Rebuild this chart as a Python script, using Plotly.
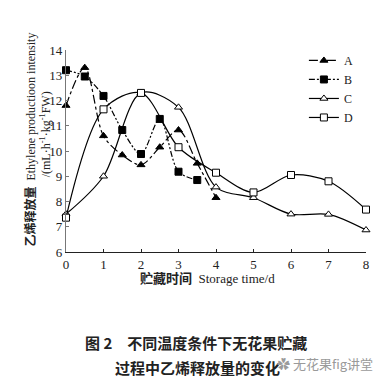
import plotly.graph_objects as go

days_AB = [0, 0.5, 1, 1.5, 2, 2.5, 3, 3.5, 4]
A_vals = [11.8, 13.3, 10.6, 9.84, 9.45, 10.15, 10.83, 9.51, 8.15]
days_B = [0, 0.5, 1, 1.5, 2, 2.5, 3, 3.5]
B_vals = [13.2, 12.95, 12.18, 10.83, 9.88, 11.27, 9.18, 8.85]
days_CD = [0, 1, 2, 3, 4, 5, 6, 7, 8]
C_vals = [7.5, 9.0, 12.3, 11.73, 8.57, 8.15, 7.5, 7.49, 6.87]
D_vals = [7.36, 11.65, 12.3, 10.15, 9.14, 8.36, 9.05, 8.8, 7.68]

x_ticks = [0, 1, 2, 3, 4, 5, 6, 7, 8]
y_ticks = [6, 7, 8, 9, 10, 11, 12, 13, 14]

SERIF = "Liberation Serif, Noto Sans CJK SC"
CJK = "Noto Sans CJK SC"

fig = go.Figure()

def add(name, x, y, dash, symbol, fill):
    fig.add_trace(go.Scatter(
        x=x, y=y, name=name, mode="lines+markers",
        line=dict(color="black", width=1.2, dash=dash, shape="spline", smoothing=0.9),
        marker=dict(symbol=symbol, size=7, color=fill, line=dict(color="black", width=1)),
        cliponaxis=False,
    ))

add("A", days_AB, A_vals, "dashdot", "triangle-up", "black")
add("B", days_B, B_vals, "6px,2px,2px,2px,2px,2px", "square", "black")
add("C", days_CD, C_vals, "solid", "triangle-up", "white")
add("D", days_CD, D_vals, "solid", "square", "white")

# The page body has an 8px default margin, so the figure is 8px smaller
fig.update_layout(
    width=380, height=374,
    margin=dict(l=58, r=22, t=42, b=130),
    paper_bgcolor="white", plot_bgcolor="white",
    font=dict(family=SERIF, size=13, color="#222"),
    showlegend=True,
    legend=dict(x=0.793, y=1.02, xanchor="left", yanchor="top",
                bgcolor="rgba(0,0,0,0)", font=dict(size=12, family=SERIF),
                itemwidth=30, tracegroupgap=0),
    xaxis=dict(range=[0, 8], tickvals=x_ticks, ticktext=[str(v) for v in x_ticks],
               showline=True, linecolor="#222", linewidth=1.2, ticks="inside",
               ticklen=3, tickcolor="#222", showgrid=False, zeroline=False,
               tickfont=dict(size=13, family=SERIF)),
    yaxis=dict(range=[6, 14], tickvals=y_ticks, ticktext=[str(v) for v in y_ticks],
               showline=True, linecolor="#777", linewidth=1.2, ticks="inside",
               ticklen=3, tickcolor="#777", showgrid=False, zeroline=False,
               tickfont=dict(size=13, family=SERIF)),
)

# Axis titles
fig.add_annotation(xref="paper", yref="paper", x=-0.15, y=0.554, textangle=-90,
                   text="<b>乙烯释放量</b>  Ethylene productioon intensity",
                   showarrow=False, font=dict(size=12, family=SERIF, color="#222"))
fig.add_annotation(xref="paper", yref="paper", x=-0.1, y=0.58, textangle=-90,
                   text="/(mL·h<sup>-1</sup>·kg<sup>-1</sup>FW)",
                   showarrow=False, font=dict(size=12, family=SERIF, color="#222"))
fig.add_annotation(xref="paper", yref="paper", x=0.47, y=-0.132, yanchor="middle",
                   text="<b>贮藏时间</b>  Storage time/d",
                   showarrow=False, font=dict(size=13, family=SERIF, color="#222"))

# Caption
fig.add_annotation(xref="paper", yref="paper", x=0.433, y=-0.446, yanchor="middle",
                   text="<b>图 2　不同温度条件下无花果贮藏</b>",
                   showarrow=False, font=dict(size=15, family=CJK, color="#222"))
fig.add_annotation(xref="paper", yref="paper", x=0.437, y=-0.574, yanchor="middle",
                   text="<b>过程中乙烯释放量的变化</b>",
                   showarrow=False, font=dict(size=15, family=CJK, color="#222"))
fig.add_annotation(xref="paper", yref="paper", x=1.03, y=-0.55, yanchor="middle",
                   xanchor="right",
                   text="✿ 无花果fig讲堂",
                   showarrow=False, font=dict(size=13, family=CJK, color="#9a9a9a"))

fig.write_html("out.html")
